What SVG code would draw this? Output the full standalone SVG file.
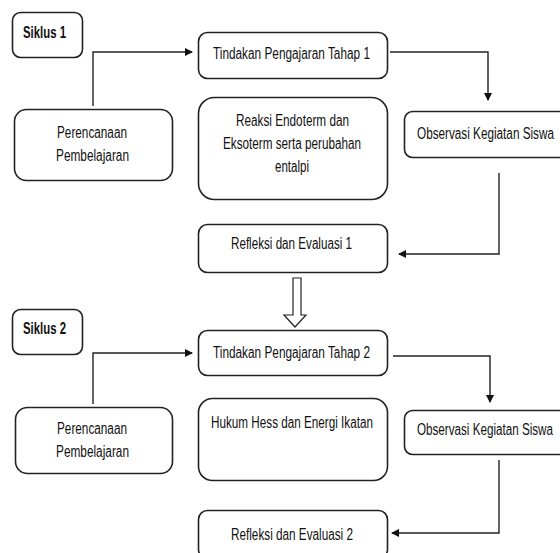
<svg xmlns="http://www.w3.org/2000/svg" width="560" height="553" viewBox="0 0 560 553">
<defs>
<marker id="ah" markerWidth="8" markerHeight="8" refX="7" refY="4" orient="auto" markerUnits="userSpaceOnUse">
<path d="M0,0 L8,4 L0,8 Z" fill="#111"/>
</marker>
<style>
.box{fill:#fff;stroke:#222;stroke-width:1.6}
.t{font-family:"Liberation Sans",Arial,sans-serif;font-size:16px;fill:#111;text-anchor:middle}
.b{font-weight:bold;text-anchor:start}
.c{fill:none;stroke:#222;stroke-width:1.4}
</style>
</defs>
<rect width="560" height="553" fill="#fff"/>
<g id="connectors">
<path class="c" d="M93,106 V52 H192" marker-end="url(#ah)"/>
<path class="c" d="M390,52 H488 V100" marker-end="url(#ah)"/>
<path class="c" d="M499,173 V254 H399" marker-end="url(#ah)"/>
<polygon points="293,278 301,278 301,315 306,315 295,327 284,315 293,315" fill="#fff" stroke="#222" stroke-width="1.2"/>
<path class="c" d="M93,404 V353 H192" marker-end="url(#ah)"/>
<path class="c" d="M393,356 H490 V402" marker-end="url(#ah)"/>
<path class="c" d="M499,460 V533 H392" marker-end="url(#ah)"/>
</g>
<g id="siklus1"><rect class="box" x="12.5" y="12.5" width="70" height="45" rx="8"/><text class="t b" x="23" y="38" textLength="43" lengthAdjust="spacingAndGlyphs">Siklus 1</text></g>
<g id="tindakan1"><rect class="box" x="198.5" y="32.5" width="189" height="46" rx="9"/><text class="t" x="291.5" y="59" textLength="157" lengthAdjust="spacingAndGlyphs">Tindakan Pengajaran Tahap 1</text></g>
<g id="perencanaan1"><rect class="box" x="14.5" y="109.5" width="158" height="71" rx="12"/><text class="t" x="92" y="138" textLength="70" lengthAdjust="spacingAndGlyphs">Perencanaan</text><text class="t" x="92.5" y="161" textLength="73" lengthAdjust="spacingAndGlyphs">Pembelajaran</text></g>
<g id="reaksi"><rect class="box" x="198.5" y="97.5" width="189" height="102" rx="16"/><text class="t" x="292.5" y="126" textLength="113" lengthAdjust="spacingAndGlyphs">Reaksi Endoterm dan</text><text class="t" x="292" y="149" textLength="138" lengthAdjust="spacingAndGlyphs">Eksoterm serta perubahan</text><text class="t" x="292" y="172" textLength="34" lengthAdjust="spacingAndGlyphs">entalpi</text></g>
<g id="observasi1"><rect class="box" x="404.5" y="111.5" width="165" height="46" rx="8"/><text class="t" x="485.5" y="139" textLength="137" lengthAdjust="spacingAndGlyphs">Observasi Kegiatan Siswa</text></g>
<g id="refleksi1"><rect class="box" x="198.5" y="224.5" width="189" height="48" rx="9"/><text class="t" x="291.5" y="249" textLength="121" lengthAdjust="spacingAndGlyphs">Refleksi dan Evaluasi 1</text></g>
<g id="siklus2"><rect class="box" x="12.5" y="309.5" width="70" height="45" rx="8"/><text class="t b" x="23" y="334" textLength="43" lengthAdjust="spacingAndGlyphs">Siklus 2</text></g>
<g id="tindakan2"><rect class="box" x="198.5" y="330.5" width="189" height="45" rx="9"/><text class="t" x="291.5" y="358" textLength="157" lengthAdjust="spacingAndGlyphs">Tindakan Pengajaran Tahap 2</text></g>
<g id="perencanaan2"><rect class="box" x="15.5" y="407.5" width="157" height="66" rx="12"/><text class="t" x="92" y="434" textLength="70" lengthAdjust="spacingAndGlyphs">Perencanaan</text><text class="t" x="92.5" y="457" textLength="73" lengthAdjust="spacingAndGlyphs">Pembelajaran</text></g>
<g id="hukum"><rect class="box" x="198.5" y="398.5" width="189" height="82" rx="14"/><text class="t" x="292" y="428" textLength="162" lengthAdjust="spacingAndGlyphs">Hukum Hess dan Energi Ikatan</text></g>
<g id="observasi2"><rect class="box" x="404.5" y="410.5" width="165" height="44" rx="8"/><text class="t" x="485" y="435" textLength="136" lengthAdjust="spacingAndGlyphs">Observasi Kegiatan Siswa</text></g>
<g id="refleksi2"><rect class="box" x="198.5" y="510.5" width="189" height="48" rx="9"/><text class="t" x="292" y="540" textLength="122" lengthAdjust="spacingAndGlyphs">Refleksi dan Evaluasi 2</text></g>
</svg>
